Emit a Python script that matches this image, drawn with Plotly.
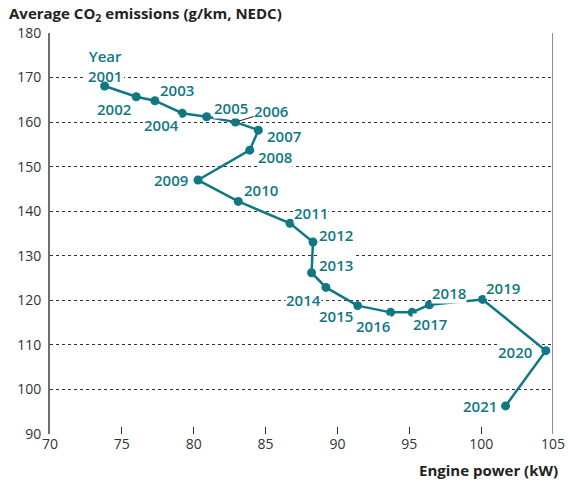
import plotly.graph_objects as go

years = [str(y) for y in range(2001, 2022)]
power_kw = [73.8, 76.0, 77.3, 79.2, 80.9, 82.9, 84.5, 83.9, 80.3, 83.1, 86.7,
            88.3, 88.2, 89.2, 91.4, 93.7, 95.2, 96.4, 100.1, 104.5, 101.7]
co2 = [168.1, 165.7, 164.8, 162.0, 161.2, 160.0, 158.2, 153.7, 147.0, 142.2, 137.3,
       133.1, 126.2, 122.9, 118.8, 117.3, 117.3, 119.0, 120.2, 108.7, 96.3]
x_ticks = [70, 75, 80, 85, 90, 95, 100, 105]
y_ticks = [90, 100, 110, 120, 130, 140, 150, 160, 170, 180]

# label pixel offsets (dx right, dy down)
label_dx = [0, -22, 22, -21, 24, 36, 26, 25, -27, 23, 21, 23, 24, -22, -22, -18, 18, 20, 20, -31, -26]
label_dy = [-20, 12, -11, 12, -9, -11, 6, 7, 0, -11, -10, -7, -8, 13, 10, 14, 12, -12, -11, 1, 0]

TEAL = "#0f7882"
FONT = "Open Sans"
LBL = dict(family=FONT, size=15, color=TEAL, weight=600)

fig = go.Figure()
fig.add_trace(go.Scatter(
    x=power_kw, y=co2, mode="lines+markers",
    line=dict(color=TEAL, width=2.5),
    marker=dict(color=TEAL, size=9),
    hoverinfo="skip", showlegend=False,
))

# white gap in the gridline behind the first label (between grid and traces)
fig.add_shape(type="rect", xref="x", yref="y", layer="between",
              x0=power_kw[0] - 1.35, x1=power_kw[0] + 1.35,
              y0=co2[0] + 1.2, y1=co2[0] + 7,
              fillcolor="white", line=dict(width=0))

for i, (yr, xv, yv) in enumerate(zip(years, power_kw, co2)):
    if yr == "2006":
        fig.add_annotation(x=xv, y=yv, text=yr, showarrow=True, arrowhead=0,
                           arrowwidth=1, arrowcolor="#222", ax=label_dx[i], ay=label_dy[i],
                           standoff=3, font=LBL, bgcolor="white", borderpad=0)
    elif i == 0:
        fig.add_annotation(x=xv, y=yv, text="Year<br>" + yr, showarrow=False,
                           xshift=label_dx[i], yshift=-label_dy[i], font=LBL)
    else:
        fig.add_annotation(x=xv, y=yv, text=yr, showarrow=False,
                           xshift=label_dx[i], yshift=-label_dy[i],
                           font=LBL, bgcolor="white", borderpad=0)

# right border line
fig.add_shape(type="line", x0=105, x1=105, y0=90, y1=180, xref="x", yref="y",
              line=dict(color="#444", width=1.2))

fig.add_annotation(text="Average CO<sub>2</sub> emissions (g/km, NEDC)", xref="paper", yref="paper",
                   x=-0.0855, y=1.047, xanchor="left", yanchor="middle", showarrow=False,
                   font=dict(family=FONT, size=15, color="#222", weight="bold"))
fig.add_annotation(text="Engine power (kW)", xref="paper", yref="paper",
                   x=1.014, y=-0.09, xanchor="right", yanchor="middle", showarrow=False,
                   font=dict(family=FONT, size=15, color="#222", weight="bold"))

fig.update_xaxes(range=[70, 105], tickvals=x_ticks, showgrid=False, zeroline=False,
                 showline=False, ticks="inside", ticklen=7, tickcolor="#333", tickwidth=1,
                 automargin=False,
                 tickfont=dict(family=FONT, size=14, color="#333"))
fig.update_yaxes(range=[90, 180], tickvals=y_ticks, showgrid=True, griddash="dot",
                 gridcolor="#333", gridwidth=1, zeroline=False, showline=True,
                 linecolor="#6d6d6d", linewidth=2, ticks="", ticklabelstandoff=4,
                 automargin=False,
                 tickfont=dict(family=FONT, size=14, color="#333"))

fig.update_layout(width=568, height=484, margin=dict(l=50, r=15, t=33, b=50),
                  plot_bgcolor="white", paper_bgcolor="white", font=dict(family=FONT))

fig.write_html("out.html", config={"displayModeBar": False},
               post_script="document.body.style.margin='0';")
